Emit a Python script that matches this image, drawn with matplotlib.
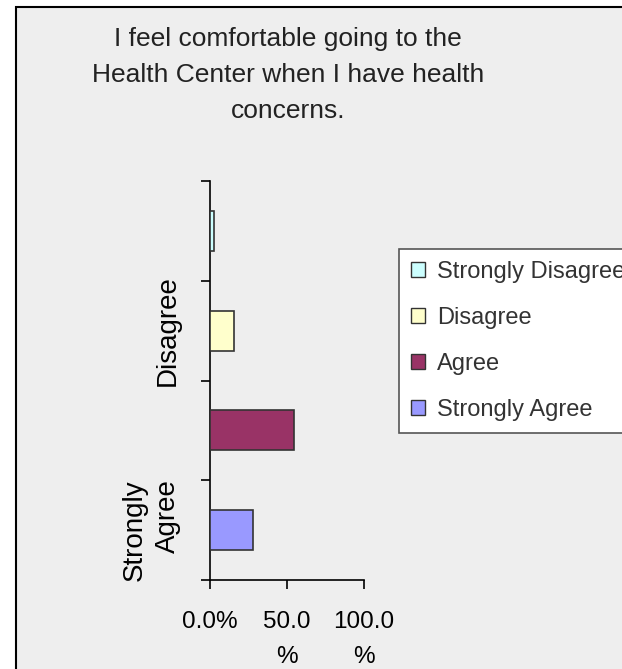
"""
Horizontal bar chart of survey responses about the Health Center
"""

import matplotlib.pyplot as plt
from matplotlib.patches import Patch, Rectangle

plt.rcParams['font.family'] = ['Liberation Sans', 'DejaVu Sans']

title = "I feel comfortable going to the\nHealth Center when I have health\nconcerns."
categories = ["Strongly Disagree", "Disagree", "Agree", "Strongly Agree"]
percents = [2.6, 15.5, 54.3, 27.8]
colors = ["#ccffff", "#ffffcc", "#993366", "#9999ff"]
x_ticks = [0, 50, 100]
x_tick_labels = ["0.0%", "50.0\n%", "100.0\n%"]

W, H = 622, 669
fig = plt.figure(figsize=(W / 100, H / 100), dpi=100, facecolor="white")

# Chart area background with border (runs off the right and bottom edge)
fig.patches.append(Rectangle((16 / W, -0.1), 1.0, (H - 7) / H + 0.1, transform=fig.transFigure,
                             facecolor="#eeeeee", edgecolor="black", linewidth=1.5, zorder=-5))

fig.text(288 / W, 1 - 27 / H, title, ha="center", va="top", fontsize=19,
         color="#222222", linespacing=1.62)

ax = fig.add_axes([210 / W, 1 - 580 / H, 154 / W, 399 / H])
ax.set_facecolor("none")
ax.set_zorder(2)

pos = list(range(len(categories)))
ax.barh(pos, percents, height=0.4, color=colors, edgecolor="#333333", linewidth=1.2, zorder=3)

ax.set_xlim(0, 100)
ax.set_ylim(len(categories) - 0.5, -0.5)

for side in ["top", "right"]:
    ax.spines[side].set_visible(False)
for side in ["left", "bottom"]:
    ax.spines[side].set_linewidth(1.2)

# y axis: tick marks between categories, labels only on every second category
ax.set_yticks([p - 0.5 for p in range(len(categories) + 1)])
ax.set_yticklabels([])
ax.set_yticks(pos[1::2], minor=True)
ax.set_yticklabels([c.replace(" ", "\n") for c in categories[1::2]], minor=True,
                   rotation=90, va="center", ha="right", fontsize=20, linespacing=1.35)
ax.tick_params(axis="y", which="major", direction="out", length=6.5, width=1.2)
ax.tick_params(axis="y", which="minor", length=0, pad=21)

ax.set_xticks(x_ticks)
ax.set_xticklabels(x_tick_labels, fontsize=17.5)
for lbl in ax.get_xticklabels():
    lbl.set_linespacing(1.75)
ax.tick_params(axis="x", direction="out", length=6.5, width=1.2, pad=16)

handles = [Patch(facecolor=c, edgecolor="#333333", linewidth=1.0) for c in colors]
leg = fig.legend(handles, categories, loc="upper left", bbox_to_anchor=(399 / W, 1 - 249 / H),
                 bbox_transform=fig.transFigure, borderaxespad=0, fontsize=17,
                 handlelength=0.6, handleheight=0.6, handletextpad=0.5, labelspacing=1.02,
                 borderpad=0.5, fancybox=False, framealpha=1, facecolor="white",
                 edgecolor="#555555")
leg.get_frame().set_linewidth(1.2)
for t in leg.get_texts():
    t.set_color("#333333")

fig.savefig("out.png", dpi=100)
